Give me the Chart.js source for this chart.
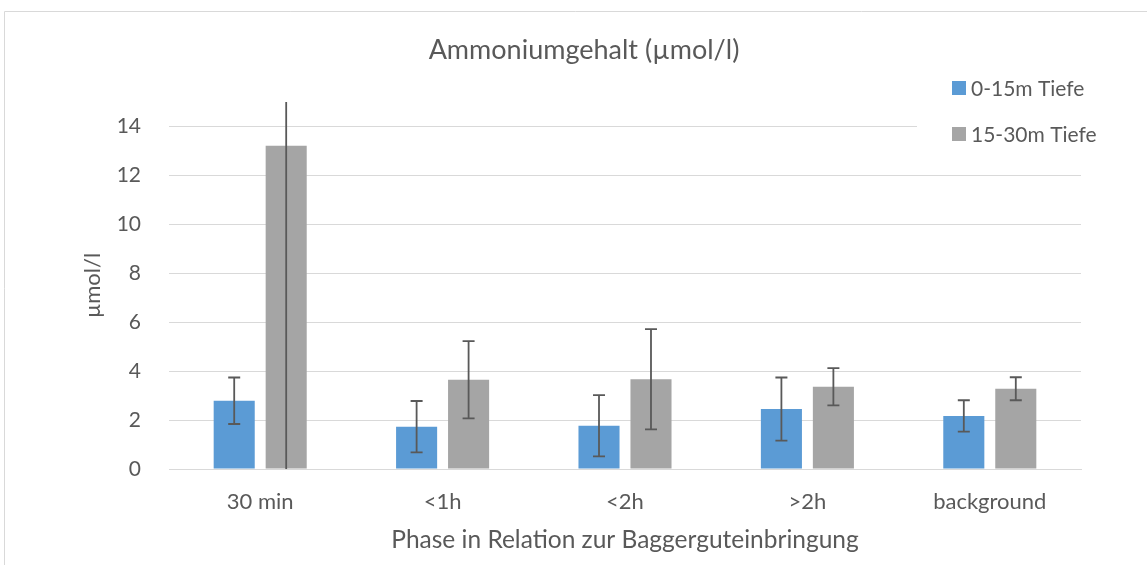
<!DOCTYPE html>
<html>
<head>
<meta charset="utf-8">
<script src="https://cdn.jsdelivr.net/npm/chart.js@4.4.1/dist/chart.umd.min.js"></script>
<style>
  html, body { margin: 0; padding: 0; background: #fff; }
  #wrap { width: 1147px; height: 565px; position: relative; }
</style>
</head>
<body>
<div id="wrap"><canvas id="barChart"></canvas></div>
<script>
// values
const phases = ["30 min", "<1h", "<2h", ">2h", "background"];
const seriesNames = ["0-15m Tiefe", "15-30m Tiefe"];
const shallow = [2.79, 1.73, 1.77, 2.45, 2.17];
const shallowErr = [0.95, 1.05, 1.25, 1.29, 0.64];
const deep = [13.21, 3.65, 3.67, 3.36, 3.28];
const deepErr = [14, 1.58, 2.05, 0.76, 0.47];
const yTicks = [0, 2, 4, 6, 8, 10, 12, 14];

const textColor = "#595959";
const blue = "rgb(91, 155, 213)";
const grey = "rgb(165, 165, 165)";

// draws the error bars, the frame, the title and the legend box
const extras = {
  id: "extras",
  beforeDraw(chart) {
    const ctx = chart.ctx;
    ctx.save();
    ctx.strokeStyle = "#d9d9d9";
    ctx.lineWidth = 1;
    ctx.beginPath();
    ctx.moveTo(4.5, 565);
    ctx.lineTo(4.5, 11.5);
    ctx.lineTo(1147, 11.5);
    ctx.stroke();
    ctx.restore();
  },
  afterDatasetsDraw(chart) {
    const ctx = chart.ctx;
    const y = chart.scales.y;
    const area = chart.chartArea;
    const errs = [shallowErr, deepErr];
    ctx.save();
    ctx.strokeStyle = textColor;
    ctx.lineWidth = 1.8;
    chart.data.datasets.forEach((ds, i) => {
      chart.getDatasetMeta(i).data.forEach((bar, j) => {
        const v = ds.data[j];
        const e = errs[i][j];
        const top = y.getPixelForValue(v + e);
        const bot = y.getPixelForValue(v - e);
        const x = bar.x;
        const t = Math.max(top, area.top);
        const b = Math.min(bot, area.bottom);
        ctx.beginPath();
        ctx.moveTo(x, t);
        ctx.lineTo(x, b);
        if (top >= area.top) {
          ctx.moveTo(x - 6, top);
          ctx.lineTo(x + 6, top);
        }
        if (bot <= area.bottom) {
          ctx.moveTo(x - 6, bot);
          ctx.lineTo(x + 6, bot);
        }
        ctx.stroke();
      });
    });
    ctx.restore();
  },
  afterDraw(chart) {
    const ctx = chart.ctx;
    ctx.save();
    ctx.fillStyle = textColor;
    ctx.font = "27px Lato";
    ctx.textAlign = "center";
    ctx.textBaseline = "middle";
    ctx.fillText("Ammoniumgehalt (µmol/l)", 584, 50);

    // legend sits over the plot area, on a white box
    ctx.fillStyle = "#fff";
    ctx.fillRect(917, 64, 230, 92);
    ctx.font = "21px Lato";
    ctx.textAlign = "left";
    chart.data.datasets.forEach((ds, i) => {
      const cy = 88 + i * 46;
      ctx.fillStyle = ds.backgroundColor;
      ctx.fillRect(952, cy - 7, 14, 14);
      ctx.fillStyle = textColor;
      ctx.fillText(ds.label, 971, cy + 1);
    });
    ctx.restore();
  }
};

window.chart = new Chart(document.getElementById("barChart"), {
  type: "bar",
  data: {
    labels: phases,
    datasets: [
      {
        label: seriesNames[0],
        data: shallow,
        backgroundColor: blue,
        categoryPercentage: 0.57,
        barPercentage: 0.79,
      },
      {
        label: seriesNames[1],
        data: deep,
        backgroundColor: grey,
        categoryPercentage: 0.57,
        barPercentage: 0.79,
      },
    ],
  },
  options: {
    responsive: true,
    maintainAspectRatio: false,
    animation: false,
    layout: { padding: { top: 102, right: 66, left: 0, bottom: 0 } },
    plugins: {
      legend: { display: false },
      title: { display: false },
      tooltip: { enabled: false },
    },
    scales: {
      x: {
        grid: { display: false },
        border: { display: true, color: "#d9d9d9", width: 1 },
        ticks: { color: textColor, font: { family: "Lato", size: 22 }, padding: 12 },
        title: {
          display: true,
          text: "Phase in Relation zur Baggerguteinbringung",
          color: textColor,
          font: { family: "Lato", size: 24.5 },
          padding: { top: 0, bottom: 10 },
        },
        afterFit(scale) { scale.height = 96; },
      },
      y: {
        min: 0,
        max: 15,
        grid: { color: "#d9d9d9", lineWidth: 1, drawTicks: false },
        border: { display: false },
        afterBuildTicks(scale) { scale.ticks = yTicks.map((v) => ({ value: v })); },
        ticks: { color: textColor, font: { family: "Lato", size: 21 }, padding: 28 },
        title: {
          display: true,
          text: "µmol/l",
          color: textColor,
          font: { family: "Lato", size: 22 },
          padding: { top: 80, bottom: 0 },
        },
        afterFit(scale) { scale.width = 169; },
      },
    },
  },
  plugins: [extras],
});
</script>
</body>
</html>
